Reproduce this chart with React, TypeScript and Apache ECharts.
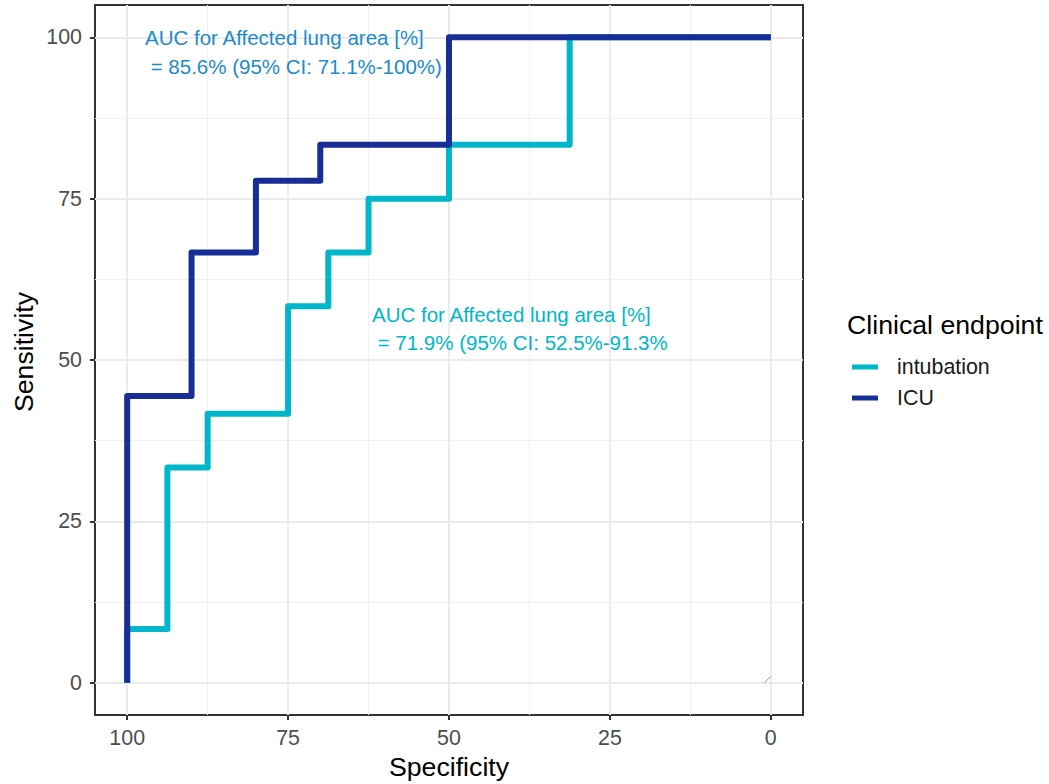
import React, { useEffect, useRef } from "react";
import * as echarts from "echarts";

const FONT = "'Liberation Sans', Arial, Helvetica, sans-serif";

// ROC curve vertices (specificity %, sensitivity %)
const intubationSpec = [100, 100, 93.75, 93.75, 87.5, 87.5, 75, 75, 68.75, 68.75, 62.5, 62.5, 50, 50, 31.25, 31.25, 0];
const intubationSens = [0, 8.33, 8.33, 33.33, 33.33, 41.67, 41.67, 58.33, 58.33, 66.67, 66.67, 75, 75, 83.33, 83.33, 100, 100];
const icuSpec = [100, 100, 90, 90, 80, 80, 70, 70, 50, 50, 0];
const icuSens = [0, 44.44, 44.44, 66.67, 66.67, 77.78, 77.78, 83.33, 83.33, 100, 100];
const diagSpec = [1, 0];
const diagSens = [0, 1];

const seriesNames = ["intubation", "ICU"];
const seriesColors = ["#00B6C8", "#172E96"];
const majorTicks = [0, 25, 50, 75, 100];
const minorTicks = [12.5, 37.5, 62.5, 87.5];

const annotationICU = "AUC for Affected lung area [%]\n = 85.6% (95% CI: 71.1%-100%)";
const annotationIntubation = "AUC for Affected lung area [%]\n = 71.9% (95% CI: 52.5%-91.3%";

const zip = (a: number[], b: number[]) => a.map((v, i) => [v, b[i]]);

export default function App() {
  const ref = useRef<HTMLDivElement>(null);
  useEffect(() => {
    document.body.style.margin = "0";
    if (!ref.current) return;
    const chart = echarts.init(ref.current, undefined, { renderer: "svg" });
    const axisCommon = {
      type: "value" as const,
      min: -5,
      max: 105,
    };
    const option: any = {
      animation: false,
      backgroundColor: "#ffffff",
      grid: {
        left: 95,
        top: 5,
        width: 708,
        height: 710,
        show: true,
        borderColor: "#333333",
        borderWidth: 2,
        backgroundColor: "#ffffff",
      },
      xAxis: [
        {
          ...axisCommon,
          inverse: true,
          position: "bottom",
          axisLine: { show: false, onZero: false },
          axisTick: { show: true, customValues: majorTicks, length: 5, lineStyle: { color: "#333333", width: 2 } },
          axisLabel: { customValues: majorTicks, color: "#4D4D4D", fontSize: 21.4, fontFamily: FONT, margin: 12 },
          splitLine: { show: true, lineStyle: { color: "#EBEBEB", width: 2 } },
        },
        {
          ...axisCommon,
          inverse: true,
          position: "top",
          axisLine: { show: false, onZero: false },
          axisTick: { show: false, customValues: minorTicks },
          axisLabel: { show: false, customValues: minorTicks },
          splitLine: { show: true, lineStyle: { color: "#F0F0F0", width: 1 } },
        },
      ],
      yAxis: [
        {
          ...axisCommon,
          position: "left",
          axisLine: { show: false, onZero: false },
          axisTick: { show: true, customValues: majorTicks, length: 5, lineStyle: { color: "#333333", width: 2 } },
          axisLabel: { customValues: majorTicks, color: "#4D4D4D", fontSize: 21.4, fontFamily: FONT, margin: 13 },
          splitLine: { show: true, lineStyle: { color: "#EBEBEB", width: 2 } },
        },
        {
          ...axisCommon,
          position: "right",
          axisLine: { show: false, onZero: false },
          axisTick: { show: false, customValues: minorTicks },
          axisLabel: { show: false, customValues: minorTicks },
          splitLine: { show: true, lineStyle: { color: "#F0F0F0", width: 1 } },
        },
      ],
      legend: {
        orient: "vertical",
        left: 847,
        top: 351,
        icon: "rect",
        itemWidth: 26,
        itemHeight: 5,
        itemGap: 9,
        data: seriesNames,
        textStyle: { color: "#1A1A1A", fontSize: 21.4, fontFamily: FONT, lineHeight: 22, padding: [0, 0, 0, 14] },
      },
      series: [
        {
          name: seriesNames[0],
          type: "line",
          data: zip(intubationSpec, intubationSens),
          showSymbol: false,
          symbol: "none",
          color: seriesColors[0],
          lineStyle: { color: seriesColors[0], width: 6, cap: "butt", join: "round" },
          z: 3,
          silent: true,
        },
        {
          name: seriesNames[1],
          type: "line",
          data: zip(icuSpec, icuSens),
          showSymbol: false,
          symbol: "none",
          color: seriesColors[1],
          lineStyle: { color: seriesColors[1], width: 6, cap: "butt", join: "round" },
          z: 4,
          silent: true,
        },
        {
          name: "diagonal",
          type: "line",
          data: zip(diagSpec, diagSens),
          showSymbol: false,
          symbol: "none",
          lineStyle: { color: "#9A9A9A", width: 1 },
          z: 2,
          silent: true,
        },
      ],
      graphic: [
        {
          type: "text",
          left: 145,
          top: 23,
          style: {
            text: annotationICU,
            fill: "#1C8BC9",
            fontSize: 20.5,
            fontFamily: FONT,
            lineHeight: 29,
          },
          z: 10,
        },
        {
          type: "text",
          left: 372,
          top: 300,
          style: {
            text: annotationIntubation,
            fill: "#00B6C8",
            fontSize: 20.5,
            fontFamily: FONT,
            lineHeight: 28.5,
          },
          z: 10,
        },
        {
          type: "text",
          x: 449,
          y: 767,
          style: {
            text: "Specificity",
            fill: "#000000",
            fontSize: 26.7,
            fontFamily: FONT,
            align: "center",
            verticalAlign: "middle",
          },
        },
        {
          type: "text",
          x: 24,
          y: 352,
          rotation: Math.PI / 2,
          style: {
            text: "Sensitivity",
            fill: "#000000",
            fontSize: 26.7,
            fontFamily: FONT,
            align: "center",
            verticalAlign: "middle",
          },
        },
        {
          type: "text",
          x: 847,
          y: 325,
          style: {
            text: "Clinical endpoint",
            fill: "#000000",
            fontSize: 26.7,
            fontFamily: FONT,
            align: "left",
            verticalAlign: "middle",
          },
        },
      ],
    };
    chart.setOption(option);
    return () => chart.dispose();
  }, []);
  return <div ref={ref} style={{ width: 1049, height: 784 }} />;
}
